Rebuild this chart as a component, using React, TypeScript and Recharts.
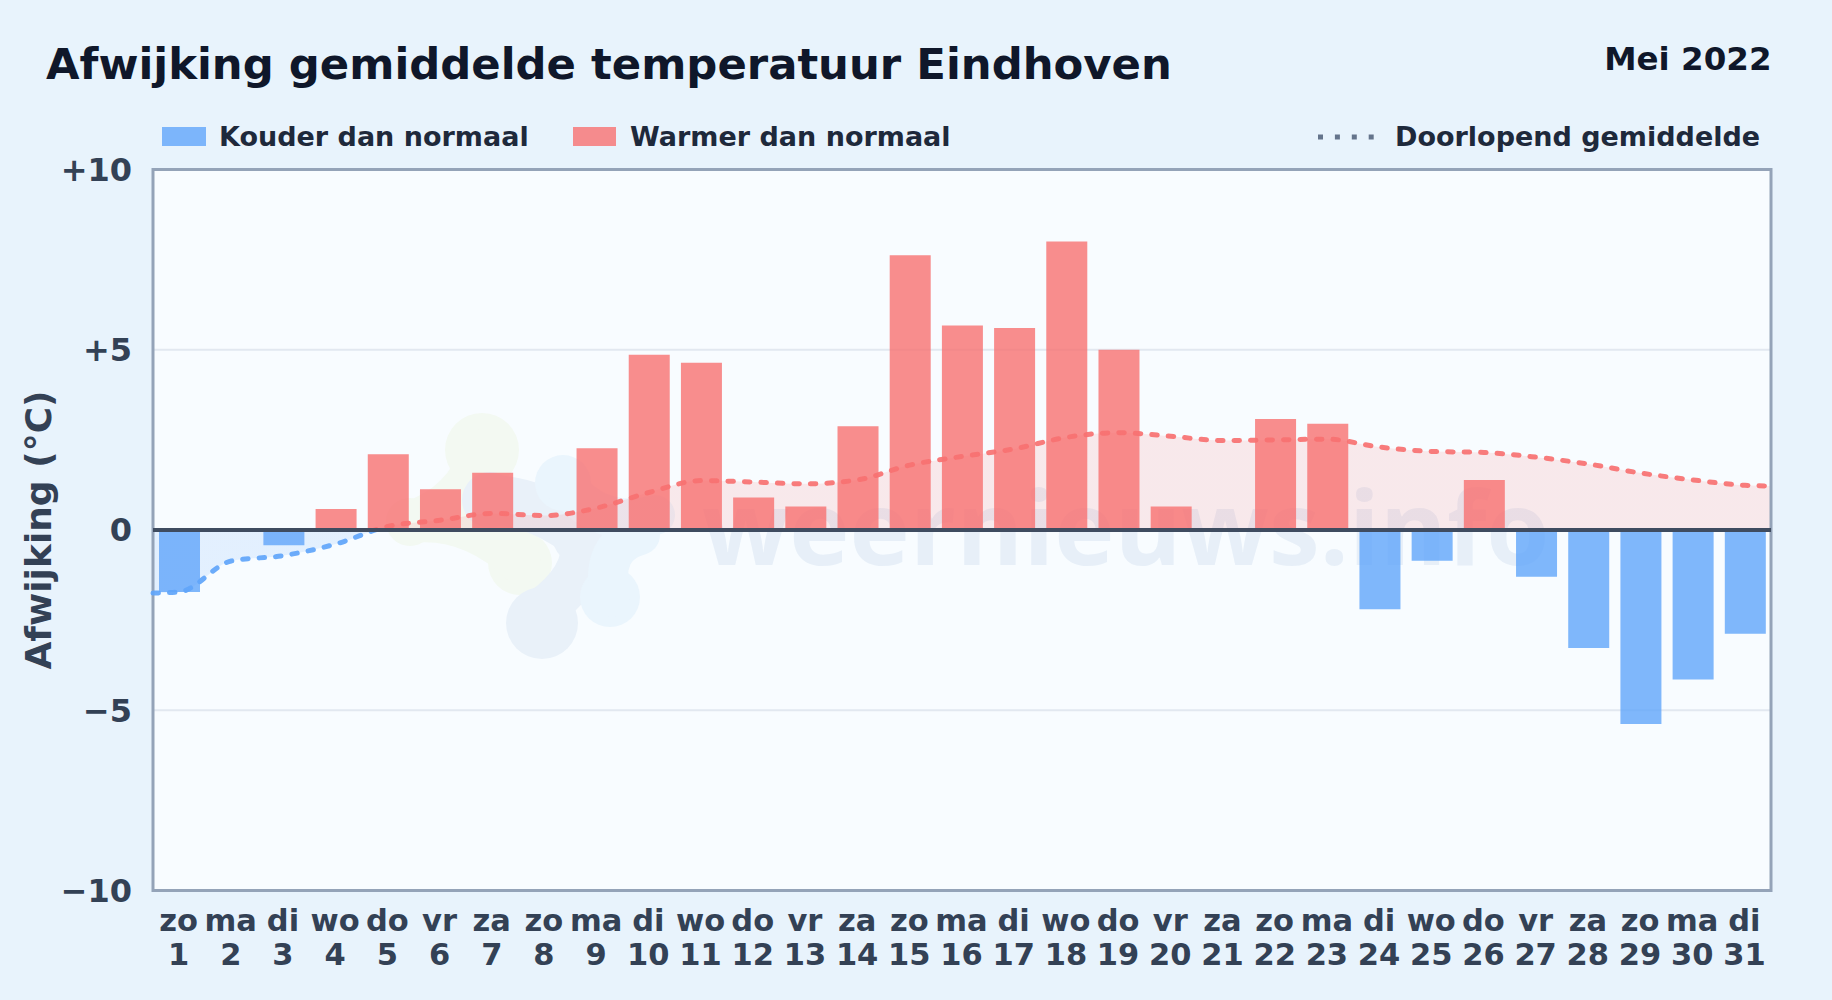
import React from 'react';
import {
  ComposedChart,
  Area,
  Bar,
  Line,
  XAxis,
  YAxis,
  CartesianGrid,
  ReferenceLine,
  ReferenceArea,
} from 'recharts';

const days = [1, 2, 3, 4, 5, 6, 7, 8, 9, 10, 11, 12, 13, 14, 15, 16, 17, 18, 19, 20, 21, 22, 23, 24, 25, 26, 27, 28, 29, 30, 31];
const dayNames = ['zo', 'ma', 'di', 'wo', 'do', 'vr', 'za', 'zo', 'ma', 'di', 'wo', 'do', 'vr', 'za', 'zo', 'ma', 'di', 'wo', 'do', 'vr', 'za', 'zo', 'ma', 'di', 'wo', 'do', 'vr', 'za', 'zo', 'ma', 'di'];
const deviation = [-1.72, 0, -0.42, 0.58, 2.1, 1.13, 1.59, 0, 2.27, 4.86, 4.64, 0.9, 0.65, 2.88, 7.62, 5.67, 5.6, 8.0, 5.0, 0.65, 0, 3.08, 2.95, -2.2, -0.85, 1.39, -1.3, -3.27, -5.38, -4.15, -2.88];
const runningAvg = [-1.72, -0.86, -0.71, -0.39, 0.1, 0.27, 0.46, 0.4, 0.61, 1.04, 1.37, 1.33, 1.28, 1.39, 1.8, 2.04, 2.25, 2.57, 2.7, 2.6, 2.48, 2.5, 2.52, 2.3, 2.18, 2.15, 2.02, 1.83, 1.58, 1.39, 1.24];
// the line runs on to the plot edges, half a day before the 1st and after the 31st
const avgAtStart = -1.75;
const avgAtEnd = 1.22;
const yTicks = [-10, -5, 0, 5, 10];

const barRows = days.map((day, i) => ({
  day,
  warm: deviation[i] > 0 ? deviation[i] : 0,
  cold: deviation[i] < 0 ? deviation[i] : 0,
}));

const avgRows = [
  { day: 0.5, avg: avgAtStart },
  ...days.map((day, i) => ({ day, avg: runningAvg[i] })),
  { day: 31.5, avg: avgAtEnd },
];

const allAvg = avgRows.map((r) => r.avg);
const avgMax = Math.max(...allAvg);
const avgMin = Math.min(...allAvg);
const zeroOffset = avgMax / (avgMax - avgMin);

const FONT = '"DejaVu Sans", sans-serif';

const formatY = (v: number) => (v > 0 ? `+${v}` : v < 0 ? `\u2212${-v}` : '0');

const DayTick = ({ x, payload }: any) => (
  <text textAnchor="middle" fontFamily={FONT} fontWeight={700} fontSize={30.5} fill="#334155">
    <tspan x={x - 0.5} y={931}>{dayNames[payload.value - 1]}</tspan>
    <tspan x={x - 0.5} y={965}>{payload.value}</tspan>
  </text>
);

const Watermark = () => (
  <g style={{ pointerEvents: 'none' }} fill="none" strokeLinecap="round">
    <g stroke="#f3f9f2" fill="#f3f9f2">
      <circle cx={482} cy={450} r={37} stroke="none" />
      <circle cx={410} cy={522} r={24} stroke="none" />
      <circle cx={520} cy={563} r={32} stroke="none" />
      <path d="M482 450 Q465 505 410 522" strokeWidth={42} fill="none" />
      <path d="M410 522 Q470 515 520 563" strokeWidth={42} fill="none" />
    </g>
    <g stroke="#e9f1f9" fill="#e9f1f9">
      <circle cx={490} cy={500} r={28} stroke="none" />
      <circle cx={582} cy={535} r={30} stroke="none" />
      <circle cx={542} cy={623} r={36} stroke="none" />
      <path d="M490 500 Q535 500 582 535" strokeWidth={50} fill="none" />
      <path d="M582 535 Q590 575 542 610" strokeWidth={44} fill="none" />
    </g>
    <g stroke="#eaf5fd" fill="#eaf5fd">
      <circle cx={563} cy={483} r={28} stroke="none" />
      <circle cx={610} cy={597} r={30} stroke="none" />
      <path d="M563 483 Q600 530 655 515" strokeWidth={40} fill="none" />
      <path d="M640 535 Q600 545 610 597" strokeWidth={40} fill="none" />
    </g>
    <text x={702} y={565} fontFamily='"Open Sans", sans-serif' fontWeight={700} fontSize={102} fill="#8fb0d6" fillOpacity={0.16} stroke="none">
      weernieuws.info
    </text>
  </g>
);

const LegendAndTitle = () => (
  <g fontFamily={FONT} fontWeight={700}>
    <text x={46} y={79} fontSize={43.35} fill="#0f172a">Afwijking gemiddelde temperatuur Eindhoven</text>
    <text x={1771.5} y={70} fontSize={32.5} textAnchor="end" fill="#0f172a">Mei 2022</text>
    <rect x={162} y={127} width={44} height={19} fill="#60a5fa" fillOpacity={0.8} />
    <text x={219} y={146} fontSize={27} fill="#1e293b">Kouder dan normaal</text>
    <rect x={573} y={127} width={43} height={19} fill="#f87171" fillOpacity={0.8} />
    <text x={630} y={146} fontSize={27} fill="#1e293b">Warmer dan normaal</text>
    <line x1={1318} x2={1374} y1={137} y2={137} stroke="#64748b" strokeWidth={5} strokeDasharray="5 11.9" />
    <text x={1395} y={146} fontSize={27} fill="#1e293b">Doorlopend gemiddelde</text>
    <text transform="translate(51 530) rotate(-90)" textAnchor="middle" fontSize={36} fill="#334155">Afwijking (°C)</text>
  </g>
);

const App = () => (
  <div style={{ position: 'absolute', left: 0, top: 0, width: 1832, height: 1000, background: '#e8f3fc' }}>
    <div style={{ position: 'absolute', left: 153, top: 169.5, width: 1618, height: 721, background: '#f8fcff' }} />
    <ComposedChart
      width={1832}
      height={1000}
      data={barRows}
      margin={{ top: 169.5, right: 61, bottom: 9.5, left: 0 }}
      style={{ position: 'absolute', left: 0, top: 0 }}
    >
      <defs>
        <linearGradient id="avgStroke" x1="0" y1="0" x2="0" y2="1">
          <stop offset={zeroOffset} stopColor="#f87171" />
          <stop offset={zeroOffset} stopColor="#60a5fa" />
        </linearGradient>
        <linearGradient id="avgFill" x1="0" y1="0" x2="0" y2="1">
          <stop offset={zeroOffset} stopColor="#f87171" stopOpacity={0.14} />
          <stop offset={zeroOffset} stopColor="#60a5fa" stopOpacity={0.14} />
        </linearGradient>
      </defs>
      <LegendAndTitle />
      <Watermark />
      <CartesianGrid vertical={false} stroke="#e2e8f0" strokeWidth={2} />
      <XAxis
        dataKey="day"
        ticks={days}
        interval={0}
        height={100}
        tick={<DayTick />}
        tickLine={false}
        axisLine={false}
      />
      <XAxis xAxisId="avg" type="number" dataKey="day" domain={[0.5, 31.5]} hide />
      <YAxis
        domain={[-10, 10]}
        ticks={yTicks}
        width={153}
        tickFormatter={formatY}
        tickSize={0}
        tickMargin={21}
        tickLine={false}
        axisLine={false}
        tick={{ fontFamily: FONT, fontWeight: 700, fontSize: 32, fill: '#334155' }}
      />
      <Area xAxisId="avg" data={avgRows} dataKey="avg" type="monotone" stroke="none" fill="url(#avgFill)" fillOpacity={1} dot={false} activeDot={false} isAnimationActive={false} />
      <Bar dataKey="cold" stackId="dev" barSize={41} fill="#60a5fa" fillOpacity={0.8} isAnimationActive={false} />
      <Bar dataKey="warm" stackId="dev" barSize={41} fill="#f87171" fillOpacity={0.8} isAnimationActive={false} />
      <Line xAxisId="avg" data={avgRows} dataKey="avg" type="monotone" stroke="url(#avgStroke)" strokeOpacity={0.92} strokeWidth={5} strokeDasharray="5.5 11" strokeLinecap="round" dot={false} activeDot={false} isAnimationActive={false} />
      <ReferenceLine y={0} stroke="#3f4c60" strokeWidth={4} />
      <ReferenceArea xAxisId="avg" x1={0.5} x2={31.5} y1={-10} y2={10} fill="none" stroke="#94a3b8" strokeWidth={3} />
    </ComposedChart>
  </div>
);

export default App;
